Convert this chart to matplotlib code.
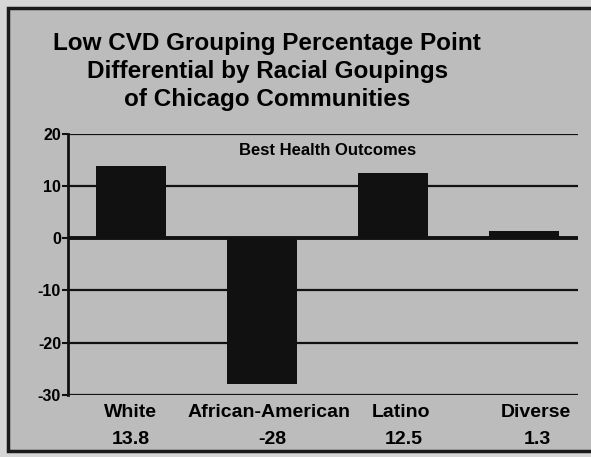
import matplotlib.pyplot as plt
from matplotlib.patches import Rectangle

groups = ["White", "African-American", "Latino", "Diverse"]
values = [13.8, -28, 12.5, 1.3]
value_labels = ["13.8", "-28", "12.5", "1.3"]
yticks = [20, 10, 0, -10, -20, -30]

title = ("Low CVD Grouping Percentage Point\n"
         "Differential by Racial Goupings\n"
         "of Chicago Communities")

plt.rcParams['font.family'] = ['Liberation Sans Narrow', 'Liberation Sans', 'DejaVu Sans']

fig = plt.figure(figsize=(5.91, 4.57), dpi=100)
fig.patch.set_facecolor('#d6d6d6')

# framed panel of the scanned graphic (right edge runs off the scan)
frame = Rectangle((0.014, 0.013), 1.05, 0.97, transform=fig.transFigure,
                  facecolor='#bcbcbc', edgecolor='#1a1a1a', linewidth=2.5, zorder=-5)
fig.patches.append(frame)

ax = fig.add_axes([0.115, 0.136, 0.863, 0.571])
ax.set_facecolor('none')

x = list(range(len(groups)))
ax.bar(x, values, width=0.53, color='#111111', zorder=3)

# horizontal rules
for t in yticks:
    lw = 2.8 if t == 0 else 1.6
    ax.axhline(t, color='#111111', linewidth=lw, zorder=4 if t == 0 else 2)

ax.set_xlim(-0.48, 3.41)
ax.set_ylim(-30, 20)
ax.set_yticks(yticks)
ax.set_yticklabels([str(t) for t in yticks], fontsize=11.5, fontweight='bold')
ax.tick_params(axis='y', length=4, width=1.5, pad=1, color='#111111')
ax.set_xticks([])

for side in ['top', 'right', 'bottom']:
    ax.spines[side].set_visible(False)
ax.spines['left'].set_linewidth(2)
ax.spines['left'].set_color('#111111')

ax.text(1.5, 16.9, "Best Health Outcomes", ha='center', va='center',
        fontsize=12, fontweight='bold')

name_shift = [0, 0.05, 0.06, 0.09]
value_shift = [0, 0.08, 0.08, 0.10]
for xi, g, v, ns, vs in zip(x, groups, value_labels, name_shift, value_shift):
    ax.text(xi + ns, -33.45, g, ha='center', va='center', fontsize=14,
            fontweight='bold', clip_on=False)
    ax.text(xi + vs, -38.6, v, ha='center', va='center', fontsize=14,
            fontweight='bold', clip_on=False)

fig.text(0.452, 0.843, title, ha='center', va='center', fontsize=17.5,
         fontweight='bold', linespacing=1.27)

fig.savefig('out.png', dpi=100, facecolor=fig.get_facecolor())
